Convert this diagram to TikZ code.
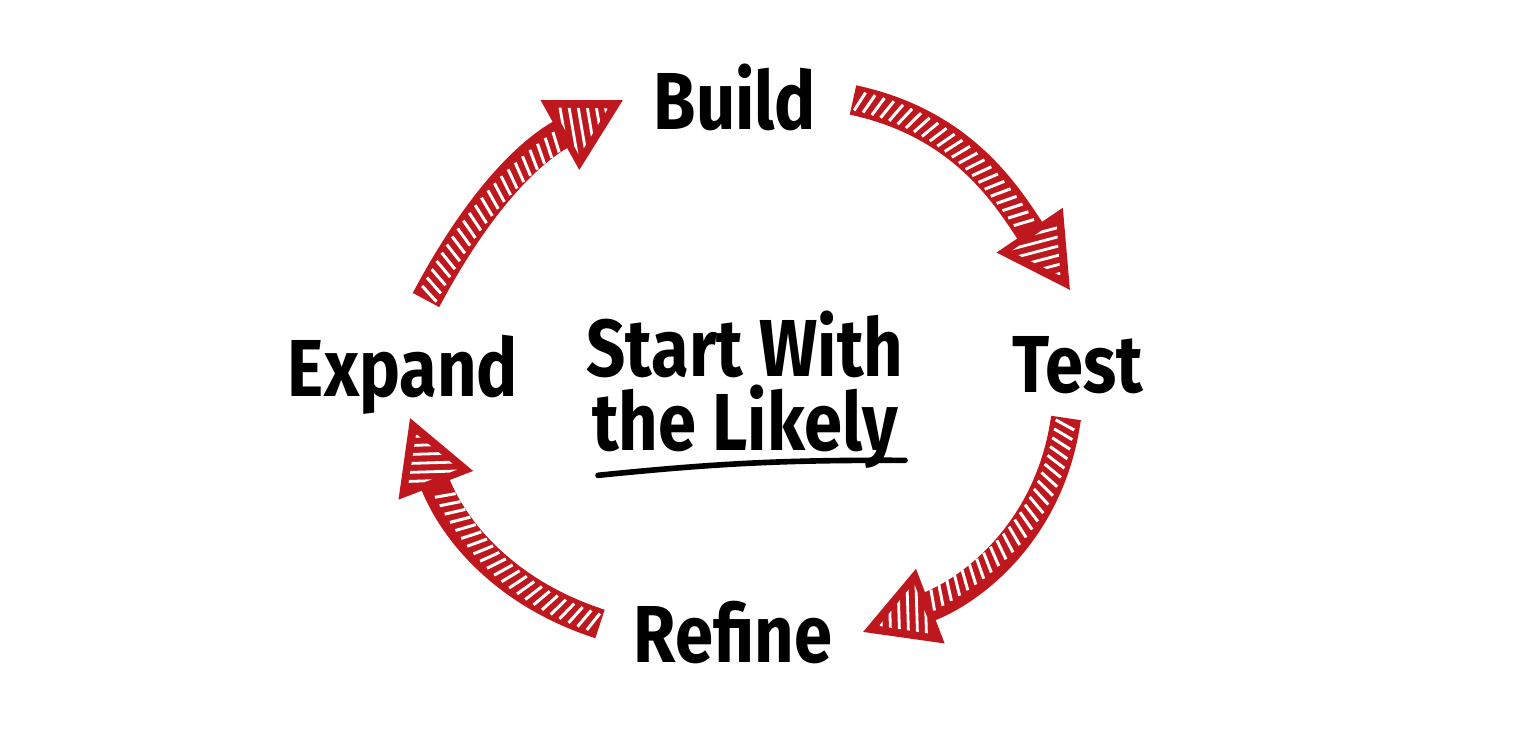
\documentclass[tikz,border=0pt]{standalone}
\usepackage{fontspec}
\setmainfont{Fira Sans}[FakeStretch=0.85]
\usetikzlibrary{arrows.meta,decorations.markings}
\definecolor{loopred}{RGB}{190,24,30}

% hatched arrow head, drawn in the frame of the path end (tip at the origin)
\newcommand{\loophead}{%
  \fill[loopred] (0,0) -- (-7.2mm,4mm) -- (-7.2mm,-4mm) -- cycle;
  \begin{scope}
    \clip (-1.7mm,0) -- (-6.5mm,2.75mm) -- (-6.5mm,-2.75mm) -- cycle;
    \foreach \k in {0,...,11} {\draw[white,line width=0.8pt] (-10mm+\k*0.95mm,-4mm) -- ++(2.8mm,8mm);}
  \end{scope}}

\begin{document}
\begin{tikzpicture}[
    stage/.style={font=\fontsize{23}{21}\selectfont\bfseries,inner sep=0pt},
    looparrow/.style={draw=loopred,line width=3mm,shorten >=7mm,
      postaction={decorate},
      decoration={markings,
        mark=between positions 2pt and -7.6mm step 0.95mm with {\draw[white,line width=0.85pt,shorten >=0pt] (-0.35mm,-1mm) -- (0.35mm,1mm);},
        mark=at position 0.9999 with {\begin{scope}[shorten >=0pt]\loophead\end{scope}}}}]
  \useasboundingbox (0,0) rectangle (15.32,7.31);
  % the four stages
  \node[stage,anchor=base] (build) at (7.35,6.01) {Build};
  \node[stage,anchor=base] (test) at (10.78,3.38) {Test};
  \node[stage,anchor=base] (refine) at (7.33,0.68) {Refine};
  \node[stage,anchor=base] (expand) at (4.03,3.34) {Expand};
  % centre text
  \node[stage,align=center] (likely) at (7.45,3.41) {Start With\\the Likely};
  \draw[line width=1.6pt,line cap=round] ([shift={(-1.47,-0.06)}]likely.south) to[bend left=3] ([shift={(1.6,0.09)}]likely.south);
  % arrows round the cycle
  \draw[looparrow] ([shift={(0.23,0.97)}]expand.base) to[out=62,in=209] ([shift={(-1.12,0.30)}]build.base);
  \draw[looparrow] ([shift={(1.18,0.30)}]build.base) to[out=-12,in=124] ([shift={(-0.08,1.03)}]test.base);
  \draw[looparrow] ([shift={(-0.12,-0.25)}]test.base) to[out=-98,in=21] ([shift={(1.30,0.31)}]refine.base);
  \draw[looparrow] ([shift={(-1.33,0.39)}]refine.base) to[out=162,in=-69] ([shift={(0.07,-0.21)}]expand.base);
\end{tikzpicture}
\end{document}
